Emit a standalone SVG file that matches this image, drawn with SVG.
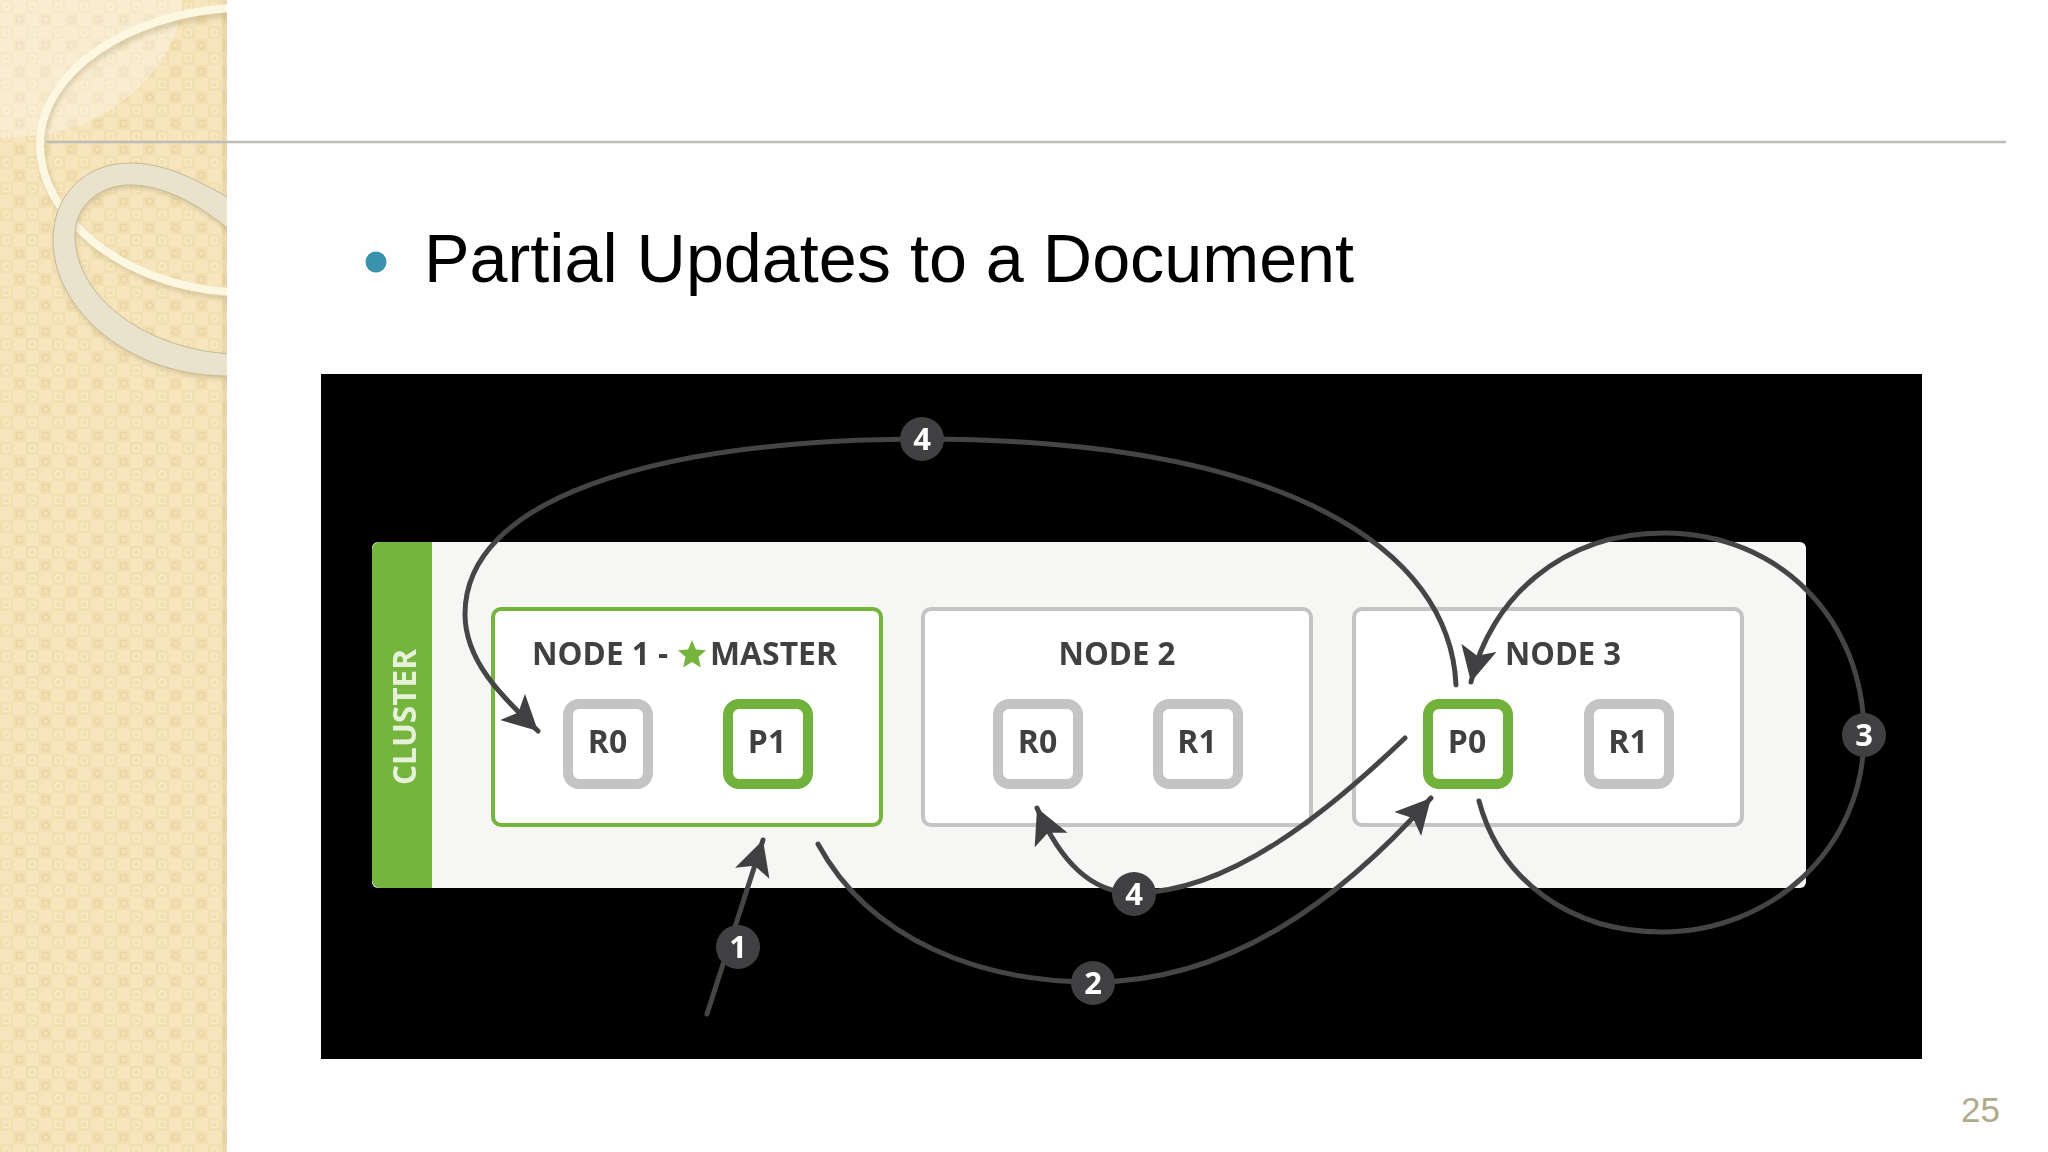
<svg xmlns="http://www.w3.org/2000/svg" width="2048" height="1152" viewBox="0 0 2048 1152">
<defs>
<pattern id="tex" width="26" height="26" patternUnits="userSpaceOnUse">
<rect width="26" height="26" fill="#f6e5bd"/>
<rect x="0" y="0" width="13" height="13" fill="#f3dfb0"/>
<rect x="13" y="13" width="13" height="13" fill="#f3dfb0"/>
<rect x="3.500" y="3.500" width="6" height="6" rx="1" fill="none" stroke="#f8ebca" stroke-width="1.500"/>
<rect x="16.500" y="16.500" width="6" height="6" rx="1" fill="none" stroke="#e9d6a8" stroke-width="1.500"/>
</pattern>
<marker id="arrow" markerUnits="userSpaceOnUse" markerWidth="42" markerHeight="40" refX="35" refY="18" orient="auto">
<path d="M0,0 L35,18 L0,36 L8,18 Z" fill="#414042"/>
</marker>
<filter id="soft" x="-10%" y="-10%" width="120%" height="120%"><feGaussianBlur stdDeviation="2.500"/></filter>
<filter id="photo" x="0" y="0" width="100%" height="100%"><feGaussianBlur stdDeviation="0.700"/></filter>
<clipPath id="side"><rect width="227" height="1152"/></clipPath>
</defs>
<style>
.lbl{font-family:"Open Sans","Liberation Sans",sans-serif;font-weight:700;fill:#414042}
.node{font-size:32px}
.sh{font-size:32px}
.box{fill:#fff;stroke:#c4c4c4;stroke-width:4}
.box.m{stroke:#76b53e}
.rep{fill:#fff;stroke:#c4c4c4;stroke-width:10}
.rep.p{stroke:#70b23a}
.con{fill:none;stroke:#454547;stroke-width:5;stroke-linecap:round}
.bd{fill:#414042}
.num{font-family:"Open Sans","Liberation Sans",sans-serif;font-weight:700;font-size:31px;fill:#fff;text-anchor:middle}
</style>
<rect width="2048" height="1152" fill="#fefefe"/>
<g id="sidebar" clip-path="url(#side)">
<rect width="227" height="1152" fill="url(#tex)"/>
<path d="M0,0 H182 C180,60 120,122 46,135 L0,138 Z" fill="#fff" opacity=".3"/>
<rect x="222" width="5" height="1152" fill="#d8c59a" opacity=".35"/>
<path d="M230,10 C130,16 40,70 40,145 C40,215 120,287 230,293" fill="none" stroke="#b9a77e" stroke-width="8" opacity=".45" filter="url(#soft)" transform="translate(2,3)"/>
<path d="M230,8 C130,14 40,70 40,145 C40,215 120,285 230,292" fill="none" stroke="#fcf7e0" stroke-width="8"/>
<path fill-rule="evenodd" d="M232,200 C190,175 160,163 130,163 C85,163 53,195 53,240 C53,310 130,378 232,376 V354 C150,350 75,300 75,235 C75,205 100,185 130,185 C165,185 200,205 232,232 Z" fill="#b9a77e" opacity=".5" filter="url(#soft)" transform="translate(1,3)"/>
<path fill-rule="evenodd" d="M232,200 C190,175 160,163 130,163 C85,163 53,195 53,240 C53,310 130,378 232,376 V354 C150,350 75,300 75,235 C75,205 100,185 130,185 C165,185 200,205 232,232 Z" fill="#e9e2cd" stroke="#c9bb95" stroke-width="1"/>
</g>
<path id="rule" d="M46,142 H2006" stroke="#bdbdb8" stroke-width="2.500"/>
<g id="title">
<circle cx="376" cy="262" r="10.500" fill="#3a93ad"/>
<text x="424" y="282" font-family="Liberation Sans, Arial, sans-serif" font-size="68.300" fill="#000">Partial Updates to a Document</text>
</g>
<text id="page" x="1961" y="1122" font-family="Liberation Sans, Arial, sans-serif" font-size="35" fill="#b0ab8a">25</text>
<g id="figure" filter="url(#photo)">
<rect id="backdrop" x="321" y="374" width="1601" height="685" fill="#000"/>
<g id="cluster">
<rect x="372" y="542" width="1434" height="346" rx="6" fill="#f6f7f5"/>
<path d="M432,542 H380 a8,8 0 0 0 -8,8 V880 a8,8 0 0 0 8,8 H432 Z" fill="#76b53e"/>
<text class="lbl" transform="translate(416,785) rotate(-90)" font-size="33" style="fill:#e6f1da" textLength="136" lengthAdjust="spacingAndGlyphs">CLUSTER</text>
</g>
<g id="node1">
<rect class="box m" x="493" y="609" width="388" height="216" rx="8"/>
<text class="lbl node" x="532" y="665" textLength="136" lengthAdjust="spacingAndGlyphs">NODE 1 -</text>
<path d="M692,640 l4,9.500 10,.8 -7.500,6.700 2.300,10.500 -8.800,-5.500 -8.800,5.500 2.300,-10.500 -7.500,-6.700 10,-.8 Z" fill="#76b53e"/>
<text class="lbl node" x="710" y="665" textLength="127" lengthAdjust="spacingAndGlyphs">MASTER</text>
</g>
<g id="node1-r0"><rect class="rep" x="568" y="704" width="80" height="80" rx="11"/><text class="lbl sh" x="607.500" y="753" text-anchor="middle">R0</text></g>
<g id="node1-p1"><rect class="rep p" x="728" y="704" width="80" height="80" rx="11"/><text class="lbl sh" x="767" y="753" text-anchor="middle">P1</text></g>
<g id="node2">
<rect class="box" x="923" y="609" width="388" height="216" rx="8"/>
<text class="lbl node" x="1117" y="665" text-anchor="middle" textLength="117" lengthAdjust="spacingAndGlyphs">NODE 2</text>
</g>
<g id="node2-r0"><rect class="rep" x="998" y="704" width="80" height="80" rx="11"/><text class="lbl sh" x="1037.500" y="753" text-anchor="middle">R0</text></g>
<g id="node2-r1"><rect class="rep" x="1158" y="704" width="80" height="80" rx="11"/><text class="lbl sh" x="1197" y="753" text-anchor="middle">R1</text></g>
<g id="node3">
<rect class="box" x="1354" y="609" width="388" height="216" rx="8"/>
<text class="lbl node" x="1563" y="665" text-anchor="middle" textLength="116" lengthAdjust="spacingAndGlyphs">NODE 3</text>
</g>
<g id="node3-p0"><rect class="rep p" x="1428" y="704" width="80" height="80" rx="11"/><text class="lbl sh" x="1467" y="753" text-anchor="middle">P0</text></g>
<g id="node3-r1"><rect class="rep" x="1589" y="704" width="80" height="80" rx="11"/><text class="lbl sh" x="1628" y="753" text-anchor="middle">R1</text></g>
<g id="connectors">
<path class="con" marker-end="url(#arrow)" d="M707,1014 L763,840"/>
<path class="con" marker-end="url(#arrow)" d="M818,844 C870,940 980,982 1093,982 C1230,982 1340,900 1431,798"/>
<path class="con" marker-end="url(#arrow)" d="M1479,801 C1500,880 1570,932 1662,932 C1770,932 1864,850 1864,735 C1864,620 1780,533 1664,533 C1560,533 1490,600 1471,682"/>
<path class="con" marker-end="url(#arrow)" d="M1456,685 C1450,550 1290,440 922,439 C650,440 465,500 465,614 C465,660 500,695 538,731"/>
<path class="con" marker-end="url(#arrow)" d="M1405,738 C1330,810 1230,893 1134,893 C1090,893 1060,860 1037,808"/>
</g>
<g id="badges">
<g id="badge-1"><circle class="bd" cx="738" cy="947" r="22"/><text class="num" x="738" y="958">1</text></g>
<g id="badge-2"><circle class="bd" cx="1093" cy="983" r="22"/><text class="num" x="1093" y="994">2</text></g>
<g id="badge-3"><circle class="bd" cx="1864" cy="735" r="22"/><text class="num" x="1864" y="746">3</text></g>
<g id="badge-4a"><circle class="bd" cx="922" cy="439" r="22"/><text class="num" x="922" y="450">4</text></g>
<g id="badge-4b"><circle class="bd" cx="1134" cy="894" r="22"/><text class="num" x="1134" y="905">4</text></g>
</g>
</g>
</svg>
